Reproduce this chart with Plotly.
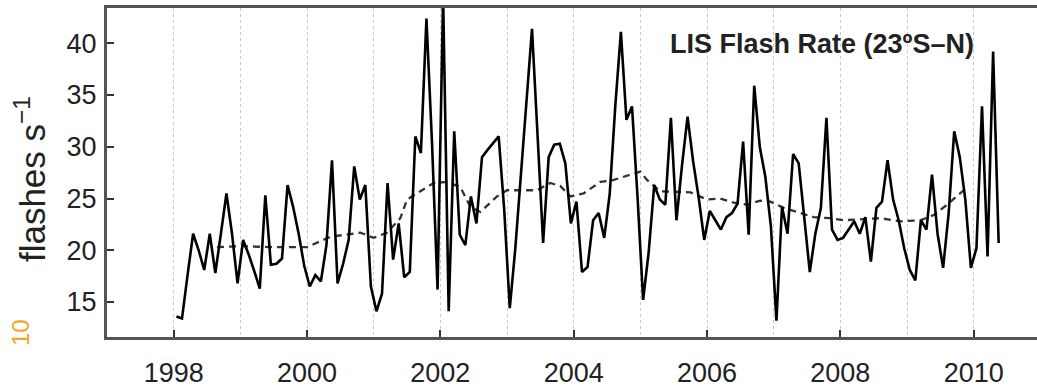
import plotly.graph_objects as go

# Monthly LIS flash rate (flashes/s), Jan 1998 .. May 2010
start_year = 1998
flash_rate = [
    13.6, 13.4, 17.6, 21.6, 20.0, 18.1, 21.6, 17.8, 21.6, 25.5, 21.6, 16.8,   # 1998
    21.0, 19.6, 18.0, 16.3, 25.3, 18.6, 18.7, 19.2, 26.3, 24.2, 21.6, 18.5,   # 1999
    16.5, 17.6, 17.0, 20.5, 28.7, 16.8, 18.7, 21.0, 28.1, 24.9, 26.3, 16.5,   # 2000
    14.1, 15.8, 26.5, 19.1, 22.6, 17.4, 17.9, 31.0, 29.4, 42.4, 30.4, 16.2,   # 2001
    44.5, 14.1, 31.5, 21.5, 20.5, 25.2, 22.6, 29.0, 29.7, 30.3, 31.0, 23.9,   # 2002
    14.4, 20.2, 27.3, 33.9, 41.4, 31.1, 20.7, 29.0, 30.2, 30.3, 28.4, 22.6,   # 2003
    24.7, 17.9, 18.4, 22.9, 23.6, 21.2, 25.5, 34.0, 41.1, 32.6, 33.9, 25.1,   # 2004
    15.2, 19.8, 26.3, 24.9, 24.4, 32.8, 22.9, 28.2, 32.9, 28.6, 25.1, 21.0,   # 2005
    23.8, 22.9, 22.0, 23.2, 23.6, 24.5, 30.5, 21.5, 35.9, 30.0, 27.1, 22.3,   # 2006
    13.2, 24.2, 21.6, 29.3, 28.4, 23.2, 17.9, 21.6, 24.1, 32.8, 22.0, 21.0,   # 2007
    21.2, 22.0, 22.8, 21.6, 23.2, 18.9, 24.1, 24.7, 28.7, 24.9, 22.9, 20.2,   # 2008
    18.1, 17.1, 22.9, 22.0, 27.3, 21.6, 18.3, 23.6, 31.5, 29.0, 24.9, 18.3,   # 2009
    20.2, 33.9, 19.4, 39.2, 20.7,                                             # 2010
]
months = list(range(len(flash_rate)))
time_years = [start_year + (m + 0.5) / 12 for m in months]

# Smoothed (running mean) trend, dashed
trend_years = [1998.65, 1999.0, 1999.5, 2000.0, 2000.35, 2000.8, 2001.0, 2001.2, 2001.4,
               2001.5, 2001.7, 2001.9, 2002.1, 2002.3, 2002.45, 2002.6, 2002.85, 2003.0,
               2003.45, 2003.65, 2003.8, 2003.95, 2004.15, 2004.4, 2004.6, 2004.85, 2005.0,
               2005.1, 2005.3, 2005.75, 2006.0, 2006.2, 2006.4, 2006.6, 2006.8, 2006.95,
               2007.15, 2007.4, 2007.6, 2007.85, 2008.05, 2008.6, 2008.9, 2009.2, 2009.4,
               2009.6, 2009.85]
trend_vals = [20.3, 20.4, 20.3, 20.3, 21.3, 21.7, 21.2, 21.7, 23.1,
              24.9, 25.7, 26.5, 26.6, 26.1, 24.2, 23.7, 25.2, 25.8,
              25.8, 26.5, 26.2, 25.2, 25.5, 26.6, 26.8, 27.3, 27.6,
              26.8, 25.7, 25.6, 24.9, 25.0, 24.6, 24.4, 24.8, 24.7,
              24.1, 23.6, 23.2, 23.1, 22.9, 23.1, 22.8, 22.9, 23.4,
              24.4, 25.8]

x_ticks = [1998, 2000, 2002, 2004, 2006, 2008, 2010]
x_minor = [1997, 1999, 2001, 2003, 2005, 2007, 2009]
y_ticks = [15, 20, 25, 30, 35, 40]

FONT = "Liberation Sans Narrow, Arial Narrow, Liberation Sans, Arial, sans-serif"

fig = go.Figure()
fig.add_trace(go.Scatter(x=trend_years, y=trend_vals, mode="lines",
                         line=dict(color="#333333", width=2.3, dash="7px,5px")))
fig.add_trace(go.Scatter(x=time_years, y=flash_rate, mode="lines",
                         line=dict(color="black", width=2.6)))

fig.update_layout(
    width=1037, height=391,
    margin=dict(l=107, r=0, t=8, b=54),
    plot_bgcolor="white", paper_bgcolor="white",
    showlegend=False,
    font=dict(family=FONT, color="#222222"),
)
fig.update_xaxes(
    range=[1997.0, 2010.95],
    tickvals=x_ticks, ticktext=[str(v) for v in x_ticks],
    ticks="inside", ticklen=7, tickwidth=1.5, tickcolor="#333",
    showline=True, linewidth=3, linecolor="#555", mirror=True,
    showgrid=True, griddash="dot", gridcolor="#c8c8c8", gridwidth=1,
    minor=dict(tickvals=x_minor, showgrid=True, griddash="dot",
               gridcolor="#c8c8c8", gridwidth=1, ticks=""),
    tickfont=dict(size=27, family=FONT, color="#222"),
    ticklabelstandoff=10,
    zeroline=False,
)
fig.update_yaxes(
    range=[11.62, 43.41],
    tickvals=y_ticks,
    ticks="inside", ticklen=7, tickwidth=1.5, tickcolor="#333",
    showline=True, linewidth=3, linecolor="#555", mirror=False,
    showgrid=False, zeroline=False,
    tickfont=dict(size=27, family=FONT, color="#222"),
    ticklabelstandoff=2,
)

fig.add_annotation(
    text="flashes s<sup>\u22121</sup>", textangle=-90,
    xref="paper", yref="paper", x=-0.0828, y=0.48,
    xanchor="center", yanchor="middle", showarrow=False,
    font=dict(size=35, family=FONT, color="#222"),
)
fig.add_annotation(
    text="<b>LIS Flash Rate (23\u00baS\u2013N)</b>",
    xref="paper", yref="paper", x=0.769, y=0.8906,
    xanchor="center", yanchor="middle", showarrow=False,
    font=dict(size=27, family=FONT, color="#222"),
)
# partially visible label from an adjacent panel (orange)
fig.add_annotation(
    text="10", textangle=-90,
    xref="paper", yref="paper", x=-0.0935, y=0.012,
    xanchor="center", yanchor="middle", showarrow=False,
    font=dict(size=24, family=FONT, color="#f5a623"),
)

fig.write_html("out.html")
